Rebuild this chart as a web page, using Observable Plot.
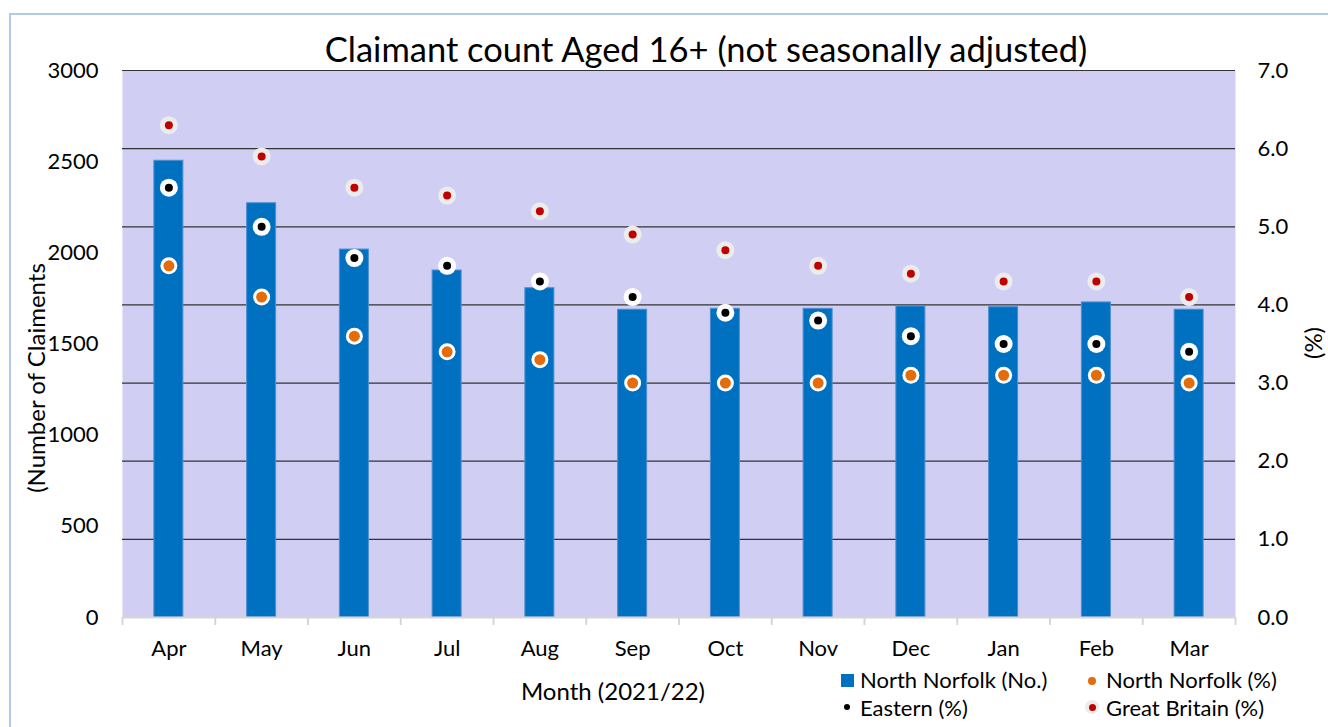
<!DOCTYPE html>
<html><head><meta charset="utf-8">
<script src="https://cdn.jsdelivr.net/npm/d3@7"></script>
<script src="https://cdn.jsdelivr.net/npm/@observablehq/plot@0.6"></script>
<style>
body{margin:0;background:#fff;font-family:Lato,"Open Sans",sans-serif;color:#000;}
#wrap{position:relative;width:1328px;height:727px;overflow:hidden;background:#fff;}
#border{position:absolute;left:9px;top:13px;width:1340px;height:760px;border:2px solid #b4c9e6;box-sizing:border-box;}
#chart{position:absolute;left:0;top:0;}
.t{position:absolute;white-space:nowrap;}
#title{left:706px;top:48px;font-size:34.5px;transform:translate(-50%,-50%);}
#ytitle{left:35px;top:378px;font-size:24px;transform:translate(-50%,-50%) rotate(-90deg);}
#y2title{left:1312px;top:343px;font-size:24px;transform:translate(-50%,-50%) rotate(-90deg);}
#xtitle{left:613px;top:690px;font-size:24px;transform:translate(-50%,-50%);}
.leg{position:absolute;font-size:22px;line-height:22px;white-space:nowrap;}
.mk{position:absolute;}
</style>
</head><body>
<div id="wrap">
  <div id="border"></div>
  <div id="chart"></div>
  <div class="t" id="title">Claimant count Aged 16+ (not seasonally adjusted)</div>
  <div class="t" id="ytitle">(Number of Claiments</div>
  <div class="t" id="y2title">(%)</div>
  <div class="t" id="xtitle">Month (2021/22)</div>
  <div class="mk" style="left:841px;top:674px;width:13px;height:13px;background:#0070c0;"></div>
  <div class="leg" style="left:860px;top:669px;">North Norfolk (No.)</div>
  <div class="mk" style="left:1088px;top:677px;width:8px;height:8px;border-radius:50%;background:#e46c0a;"></div>
  <div class="leg" style="left:1106px;top:669px;">North Norfolk (%)</div>
  <div class="mk" style="left:844px;top:704px;width:6px;height:6px;border-radius:50%;background:#000;"></div>
  <div class="leg" style="left:860px;top:697px;">Eastern (%)</div>
  <div class="mk" style="left:1085px;top:700px;width:14px;height:14px;border-radius:50%;background:#ececec;"></div>
  <div class="mk" style="left:1088.5px;top:703.5px;width:7px;height:7px;border-radius:50%;background:#c00000;"></div>
  <div class="leg" style="left:1106px;top:697px;">Great Britain (%)</div>
</div>
<script>
const months = ["Apr","May","Jun","Jul","Aug","Sep","Oct","Nov","Dec","Jan","Feb","Mar"];
const nnCount = [2505, 2272, 2018, 1903, 1806, 1688, 1693, 1693, 1706, 1702, 1728, 1688];
const nnPct   = [4.5, 4.1, 3.6, 3.4, 3.3, 3.0, 3.0, 3.0, 3.1, 3.1, 3.1, 3.0];
const eastPct = [5.5, 5.0, 4.6, 4.5, 4.3, 4.1, 3.9, 3.8, 3.6, 3.5, 3.5, 3.4];
const gbPct   = [6.3, 5.9, 5.5, 5.4, 5.2, 4.9, 4.7, 4.5, 4.4, 4.3, 4.3, 4.1];
const countTicks = [0, 500, 1000, 1500, 2000, 2500, 3000];
const pctTicks = [0, 1, 2, 3, 4, 5, 6, 7];

const countMax = 3000, pctMax = 7;
const k = countMax / pctMax; // map % onto count scale (secondary axis)

const rows = months.map((m, i) => ({month: m, count: nnCount[i], nn: nnPct[i], east: eastPct[i], gb: gbPct[i]}));

const W = 1328, H = 727;
const mL = 122, mR = 93, mT = 70, mB = 110;
const bw = (W - mL - mR) / months.length;
const barW = 29;
const inset = (bw - barW) / 2;

const chart = Plot.plot({
  width: W, height: H,
  marginLeft: mL, marginRight: mR, marginTop: mT, marginBottom: mB,
  style: {fontFamily: "Lato, 'Open Sans', sans-serif", background: "transparent", color: "#000"},
  x: {domain: months, padding: 0, round: false, label: null},
  y: {domain: [0, countMax], label: null},
  marks: [
    Plot.frame({fill: "#d0cef3", stroke: null}),
    Plot.ruleY(pctTicks.filter(d => d > 0), {y: d => d * k, stroke: "#333333", strokeWidth: 1.2}),
    Plot.barY(rows, {x: "month", y: "count", fill: "#0070c0", stroke: "#4f8fd0", strokeWidth: 1, insetLeft: inset, insetRight: inset}),
    Plot.ruleY([0], {stroke: "#d6d6d6", strokeWidth: 2}),
    Plot.ruleX(months, {x: d => d, dx: -bw / 2, y1: 0, y2: 0, insetBottom: -8, stroke: "#d6d6d6", strokeWidth: 2}),
    Plot.ruleX([months[months.length - 1]], {x: d => d, dx: bw / 2, y1: 0, y2: 0, insetBottom: -8, stroke: "#d6d6d6", strokeWidth: 2}),
    // Great Britain (%)
    Plot.dot(rows, {x: "month", y: d => d.gb * k, r: 9, fill: "#ececec", stroke: null}),
    Plot.dot(rows, {x: "month", y: d => d.gb * k, r: 4, fill: "#c00000", stroke: null}),
    // Eastern (%)
    Plot.dot(rows, {x: "month", y: d => d.east * k, r: 9, fill: "#ffffff", stroke: null}),
    Plot.dot(rows, {x: "month", y: d => d.east * k, r: 4, fill: "#000000", stroke: null}),
    // North Norfolk (%)
    Plot.dot(rows, {x: "month", y: d => d.nn * k, r: 8.5, fill: "#ffffff", stroke: null}),
    Plot.dot(rows, {x: "month", y: d => d.nn * k, r: 5.5, fill: "#e46c0a", stroke: null}),
    Plot.axisX({tickSize: 0, tickPadding: 23, fontSize: 22, label: null}),
    Plot.axisY({anchor: "left", ticks: countTicks, tickFormat: d => String(d), tickSize: 0, tickPadding: 24, fontSize: 22, label: null}),
    Plot.axisY({anchor: "right", ticks: pctTicks.map(d => d * k), tickFormat: d => (d / k).toFixed(1), tickSize: 0, tickPadding: 22, fontSize: 22, label: null})
  ]
});
document.getElementById("chart").appendChild(chart);
</script>
</body></html>
